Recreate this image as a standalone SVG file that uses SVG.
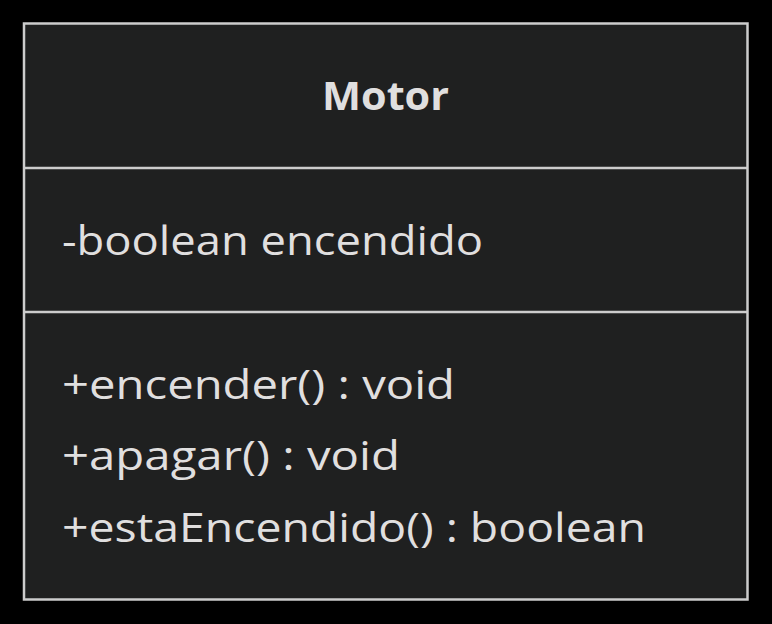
<svg xmlns="http://www.w3.org/2000/svg" width="772" height="624" viewBox="0 0 772 624">
<style>
.t{font-family:"Open Sans","DejaVu Sans",sans-serif;font-size:40px;fill:#e0dfdf}
.b{font-weight:bold}
.ln{stroke:#cccccc;stroke-width:2.5;fill:none}
</style>
<rect x="0" y="0" width="772" height="624" fill="#000000"/>
<g id="connectors"></g>
<g id="Motor">
<rect x="24" y="23.5" width="723.5" height="576" fill="#1f2020" stroke="#cccccc" stroke-width="2.5"/>
<line class="ln" x1="24" y1="168" x2="747.5" y2="168"/>
<line class="ln" x1="24" y1="312" x2="747.5" y2="312"/>
<text class="t b" x="385.5" y="110" text-anchor="middle" textLength="127" lengthAdjust="spacingAndGlyphs">Motor</text>
<text class="t" x="62" y="255" textLength="421" lengthAdjust="spacingAndGlyphs">-boolean encendido</text>
<text class="t" x="62" y="399" textLength="393" lengthAdjust="spacingAndGlyphs">+encender() : void</text>
<text class="t" x="62" y="470" textLength="338" lengthAdjust="spacingAndGlyphs">+apagar() : void</text>
<text class="t" x="62" y="542" textLength="584" lengthAdjust="spacingAndGlyphs">+estaEncendido() : boolean</text>
</g>
</svg>
